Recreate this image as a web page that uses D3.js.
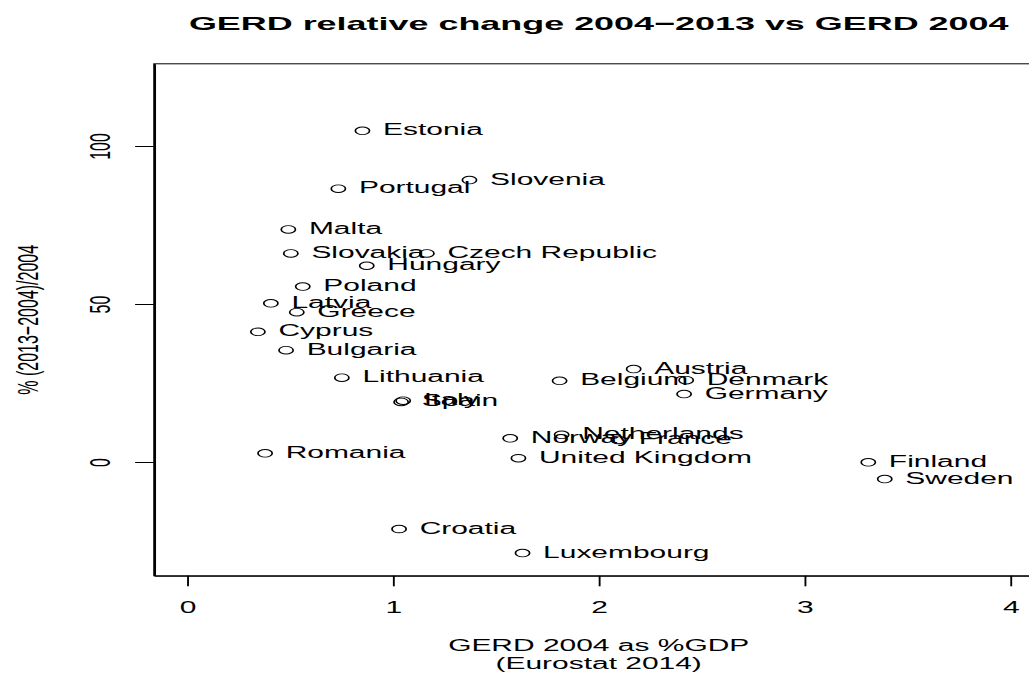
<!DOCTYPE html>
<html>
<head>
<meta charset="utf-8">
<script src="https://cdn.jsdelivr.net/npm/d3@7"></script>
<style>
  html, body { margin: 0; padding: 0; background: #fff; }
  svg { display: block; }
  text { font-family: "Liberation Sans", Arial, Helvetica, sans-serif; fill: #000; }
</style>
</head>
<body>
<div id="chart"></div>
<script>
// ---- data ----
const countries = ["Estonia","Slovenia","Portugal","Malta","Slovakia","Czech Republic","Hungary",
  "Poland","Latvia","Greece","Cyprus","Bulgaria","Lithuania","Italy","Spain","Romania",
  "Austria","Belgium","Denmark","Germany","Norway","Netherlands","France","United Kingdom",
  "Finland","Sweden","Croatia","Luxembourg"];
const gerd2004 = [0.852,1.372,0.735,0.492,0.504,1.165,0.873,
  0.562,0.407,0.533,0.344,0.481,0.752,1.05,1.04,0.379,
  2.17,1.81,2.425,2.415,1.57,1.82,2.095,1.61,
  3.31,3.39,1.03,1.63];
const gerdChange = [104.8,89.2,86.5,73.6,66.0,66.0,62.1,
  55.5,50.2,47.4,41.2,35.4,26.7,19.4,19.0,2.75,
  29.4,25.7,25.9,21.5,7.5,8.6,7.0,1.2,
  -0.1,-5.4,-21.2,-28.8];
const xTicks = [0,1,2,3,4];
const yTicks = [0,50,100];
const titleText = "GERD relative change 2004\u22122013 vs GERD 2004";
const xLabel1 = "GERD 2004 as %GDP";
const xLabel2 = "(Eurostat 2014)";
const yLabel = "% (2013\u22122004)/2004";
const xlim = [0, 4];
const ylim = [-30, 120];

// ---- layout (virtual coordinates, stretched horizontally like the reference) ----
const W = 1029, H = 673;
const VW = 550;                 // virtual width; horizontal stretch = W / VW
const plotLeft = 82.4, plotRight = 557.6, plotTop = 63.8, plotBottom = 575.8;

const xr = xlim[1] - xlim[0], yr = ylim[1] - ylim[0];
const x = d3.scaleLinear()
  .domain([xlim[0] - 0.04 * xr, xlim[1] + 0.04 * xr])
  .range([plotLeft, plotRight]);
const y = d3.scaleLinear()
  .domain([ylim[0] - 0.04 * yr, ylim[1] + 0.04 * yr])
  .range([plotBottom, plotTop]);

const svg = d3.select("#chart").append("svg")
  .attr("width", W).attr("height", H)
  .attr("viewBox", `0 0 ${VW} ${H}`)
  .attr("preserveAspectRatio", "none");

svg.append("rect").attr("x", 0).attr("y", 0).attr("width", VW).attr("height", H).attr("fill", "#fff");

// title
svg.append("text")
  .attr("x", (plotLeft + plotRight) / 2).attr("y", 30)
  .attr("text-anchor", "middle")
  .style("font-size", "19.2px").style("font-weight", "bold")
  .text(titleText);

// box
svg.append("rect")
  .attr("x", plotLeft).attr("y", plotTop)
  .attr("width", plotRight - plotLeft).attr("height", plotBottom - plotTop)
  .attr("fill", "none").attr("stroke", "#000").attr("stroke-width", 1);

// x axis
const gx = svg.append("g").attr("transform", `translate(0,${plotBottom})`)
  .call(d3.axisBottom(x).tickValues(xTicks).tickFormat(d3.format("d")).tickSize(10.5).tickSizeOuter(0));
gx.select(".domain").attr("stroke", "#000");
gx.selectAll(".tick line").attr("stroke", "#000");
gx.selectAll(".tick text")
  .attr("y", 612.7 - plotBottom).attr("dy", null)
  .style("font-size", "16px").attr("fill", "#000").style("font-family", "Liberation Sans, Arial, sans-serif");

// y axis
const gy = svg.append("g").attr("transform", `translate(${plotLeft},0)`)
  .call(d3.axisLeft(y).tickValues(yTicks).tickFormat(d3.format("d")).tickSize(10.2).tickSizeOuter(0));
gy.select(".domain").attr("stroke", "#000");
gy.selectAll(".tick line").attr("stroke", "#000");
gy.selectAll(".tick text")
  .attr("x", null).attr("dy", null)
  .attr("text-anchor", "middle")
  .attr("transform", `translate(${59 - plotLeft},0) rotate(-90)`)
  .style("font-size", "16px").attr("fill", "#000").style("font-family", "Liberation Sans, Arial, sans-serif");

// axis titles
svg.append("text")
  .attr("x", (plotLeft + plotRight) / 2).attr("y", 651)
  .attr("text-anchor", "middle").style("font-size", "16px")
  .text(xLabel1);
svg.append("text")
  .attr("x", (plotLeft + plotRight) / 2).attr("y", 669.5)
  .attr("text-anchor", "middle").style("font-size", "16px")
  .text(xLabel2);
svg.append("text")
  .attr("transform", `translate(20.3,${(plotTop + plotBottom) / 2}) rotate(-90)`)
  .attr("text-anchor", "middle").style("font-size", "16px")
  .text(yLabel);

// points + labels
const data = countries.map((c, i) => ({ name: c, gx: gerd2004[i], gy: gerdChange[i] }));
const pts = svg.append("g");
pts.selectAll("circle").data(data).enter().append("circle")
  .attr("cx", d => x(d.gx)).attr("cy", d => y(d.gy))
  .attr("r", 3.8)
  .attr("fill", "none").attr("stroke", "#000").attr("stroke-width", 0.9);
pts.selectAll("text").data(data).enter().append("text")
  .attr("x", d => x(d.gx) + 11).attr("y", d => y(d.gy) + 4.5)
  .style("font-size", "16px")
  .text(d => d.name);
</script>
</body>
</html>
